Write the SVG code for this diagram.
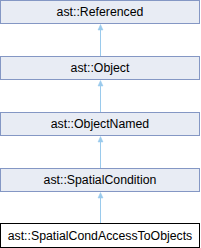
<svg xmlns="http://www.w3.org/2000/svg" width="201" height="248" viewBox="0 0 201 248">
<style>
.n rect{fill:#E8ECF4;stroke:#8497C4;stroke-width:1}
.n.leaf rect{fill:#FFFFFF;stroke:#000000}
text{font-family:"Liberation Sans",Arial,sans-serif;font-size:12.3px;fill:#000;text-anchor:middle}
.e line{stroke:#9ACAEC;stroke-width:1}
.e polygon{fill:#9ACAEC;stroke:#9ACAEC;stroke-width:0.5}
</style>
<g id="n1" class="n"><rect x="0.5" y="0.5" width="199" height="23"/><text x="100" y="16">ast::Referenced</text></g>
<g id="n2" class="n"><rect x="0.5" y="56.5" width="199" height="23"/><text x="100" y="72">ast::Object</text></g>
<g id="n3" class="n"><rect x="0.5" y="112.5" width="199" height="23"/><text x="100" y="128">ast::ObjectNamed</text></g>
<g id="n4" class="n"><rect x="0.5" y="168.5" width="199" height="23"/><text x="100" y="184">ast::SpatialCondition</text></g>
<g id="n5" class="n leaf"><rect x="0.5" y="223.5" width="199" height="24"/><text x="100" y="240">ast::SpatialCondAccessToObjects</text></g>
<g id="edges" class="e">
<line x1="100.5" y1="29" x2="100.5" y2="56"/><polygon points="100.5,24.5 103,30 98,30"/>
<line x1="100.5" y1="85" x2="100.5" y2="112"/><polygon points="100.5,80.5 103,86 98,86"/>
<line x1="100.5" y1="141" x2="100.5" y2="168"/><polygon points="100.5,136.5 103,142 98,142"/>
<line x1="100.5" y1="197" x2="100.5" y2="223"/><polygon points="100.5,192.5 103,198 98,198"/>
</g>
</svg>
